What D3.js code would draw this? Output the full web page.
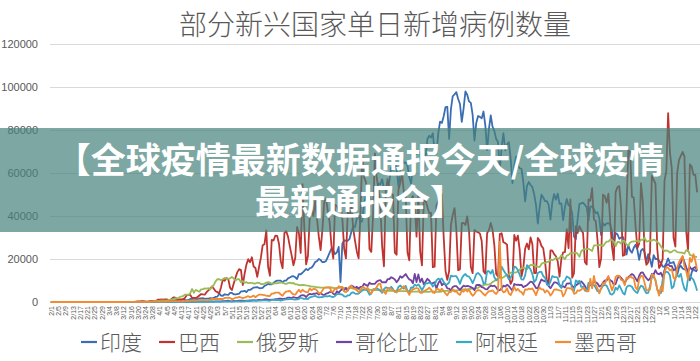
<!DOCTYPE html>
<html>
<head>
<meta charset="utf-8">
<script src="https://cdnjs.cloudflare.com/ajax/libs/d3/7.8.5/d3.min.js"></script>
<style>
html,body{margin:0;padding:0;background:#fff;}
svg{display:block;}
</style>
</head>
<body>
<svg id="chart" width="700" height="361"></svg>
<script>
// ---- Data (values in thousands of daily new cases), daily from 2020-02-01 to 2021-01-23 ----
const title = "部分新兴国家单日新增病例数量";
const bannerLines = ["【全球疫情最新数据通报今天/全球疫情", "最新通报全】"];
const seriesNames = ["印度", "巴西", "俄罗斯", "哥伦比亚", "阿根廷", "墨西哥"];
const yTicks = [0, 20000, 40000, 60000, 80000, 100000, 120000];
const startDate = new Date(2020, 1, 1);
const endDate = new Date(2021, 0, 24);

const india = [
0,0,0,0,0,0,0,0,0,0,0,0,0,0,0,0,0,0,0,0,0,0,0,0,0,0,0,0,0,
0,0,0,0,0,0,0,0,0,0,0.01,0.01,0.02,0.02,0.03,0.03,0.03,0.04,0.05,0.05,0.1,0.1,0.1,0.1,0.1,0.1,0.1,0.2,0.1,0.2,0.3,
0.4,0.5,0.5,0.6,0.5,0.7,0.5,0.6,0.8,0.9,0.9,0.8,0.8,1.2,0.9,0.9,1.0,1.4,1.3,1.6,1.5,1.3,1.7,1.7,1.8,1.5,1.6,1.6,1.8,1.7,
1.9,2.4,2.5,3.9,3.0,2.9,3.6,3.4,3.3,4.2,4.2,3.6,3.5,3.7,3.9,4.9,4.9,5.2,4.6,5.6,5.6,6.1,6.7,6.8,6.9,6.5,6.4,6.6,7.5,7.9,8.4,
8.2,8.2,8.9,9.6,9.9,9.9,9.9,9.0,9.9,10.0,11.0,11.4,11.9,12.0,11.5,10.7,13.0,12.9,13.6,14.5,15.4,14.8,15.7,16.0,17.0,18.6,19.0,20.0,19.5,18.5,
18.6,19.1,21.0,23.0,24.8,24.0,22.3,23.1,25.6,9.3,27.1,28.6,28.5,28.5,29.4,32.7,35.0,34.9,38.9,40.4,37.1,37.7,45.7,49.3,48.9,49.9,46.1,47.7,48.5,52.1,55.1,
54.7,57.1,52.9,52.1,52.5,56.3,62.5,61.5,64.4,62.1,53.6,60.9,66.9,64.6,65.0,63.5,57.9,55.1,64.5,69.7,68.9,70.0,69.2,61.4,60.9,67.2,75.8,77.3,76.5,78.5,69.9,
69.0,78.4,83.9,83.3,86.4,90.6,90.8,75.8,89.7,95.7,96.6,97.6,94.4,92.1,83.8,90.1,97.9,96.4,93.3,92.6,87.0,75.1,83.3,86.5,86.1,85.4,88.6,82.2,70.6,80.5,
86.8,81.5,79.5,75.8,74.4,61.3,72.0,78.5,70.5,73.3,74.3,66.7,55.3,63.5,67.7,63.4,62.2,61.9,55.7,46.8,54.0,55.8,54.4,53.4,50.1,45.1,36.5,43.9,49.9,48.6,46.9,
46.9,45.2,38.3,46.3,50.2,47.6,50.4,45.7,45.9,38.1,44.3,47.9,44.9,44.7,41.1,30.5,29.2,38.6,45.6,45.9,46.2,45.2,44.1,37.9,44.4,44.5,43.1,41.3,41.8,38.8,
31.1,36.6,35.6,36.6,36.7,36.0,32.9,26.6,32.1,31.5,29.4,30.0,30.3,27.1,22.1,26.4,24.0,22.9,25.2,26.6,24.3,19.6,23.9,24.7,23.1,18.7,22.3,20.0,16.4,21.8,20.0,
20.0,19.1,18.2,16.5,16.4,18.1,20.3,18.1,18.2,18.6,16.3,12.6,15.9,16.9,15.6,15.2,15.1,13.8,10.1,13.8,15.2,14.5,14.3
];

const brazil = [
0,0,0,0,0,0,0,0,0,0,0,0,0,0,0,0,0,0,0,0,0,0,0,0,0,0,0,0,0,
0,0,0,0,0,0,0,0,0,0,0.05,0.05,0.05,0.1,0.1,0.1,0.1,0.1,0.2,0.3,0.3,0.4,0.4,0.3,0.2,0.2,0.5,0.5,0.4,0.3,1.1,
1.1,1.2,1.1,1.2,1.2,0.9,0.9,1.7,2.2,1.9,1.1,1.2,1.2,1.3,1.8,3.1,3.3,3.3,1.9,1.9,1.8,2.3,3.0,3.7,3.5,3.4,4.6,5.4,6.3,7.2,
6.2,5.0,4.6,4.1,6.9,10.5,9.9,11.1,10.6,6.6,5.6,8.6,11.4,13.9,15.3,14.9,7.9,13.1,17.4,19.9,18.5,20.8,16.5,15.8,11.7,16.3,20.6,26.4,26.9,33.3,16.4,
12.2,28.9,28.6,30.9,30.8,27.1,18.9,15.7,32.1,32.9,30.4,25.9,21.7,17.1,20.6,34.9,32.2,22.8,54.8,34.7,17.5,21.4,39.4,42.7,40.0,46.9,38.7,30.5,24.1,33.8,
46.7,48.1,42.2,37.0,26.1,20.2,45.3,44.6,42.6,45.0,39.0,24.8,20.3,41.9,39.9,45.4,34.2,28.5,23.5,20.3,41.0,67.9,58.1,55.9,51.1,24.6,23.3,40.8,69.1,57.8,52.4,
45.4,25.8,16.6,51.6,57.2,53.1,50.2,49.9,23.0,22.0,52.2,55.2,60.1,50.6,49.3,23.1,19.4,47.8,49.3,45.3,30.4,50.0,23.4,17.0,47.1,47.2,44.2,41.4,41.4,16.2,16.4,
45.0,46.9,43.8,50.2,30.2,14.5,10.3,14.3,35.8,40.6,43.7,33.5,14.8,15.2,36.7,36.8,35.8,39.8,33.1,16.4,13.4,33.5,32.8,32.4,31.9,28.4,14.3,13.2,32.1,33.4,
36.8,33.5,26.3,13.0,11.9,31.6,32.0,27.8,27.4,26.7,12.3,8.4,10.2,31.2,28.5,30.9,24.1,11.9,15.8,24.8,27.2,24.5,30.0,26.9,13.5,13.5,29.8,28.6,26.1,25.0,18.9,
10.1,8.5,24.0,23.9,22.3,21.3,18.9,11.8,20.0,23.1,23.2,33.9,25.0,47.7,11.3,13.4,35.3,32.1,35.3,33.5,32.1,18.6,17.4,47.7,47.1,53.0,38.4,37.6,28.6,16.2,
20.4,49.9,49.2,46.1,50.4,37.3,25.7,19.5,51.1,53.4,54.0,43.9,21.5,21.9,42.9,70.6,69.8,48.9,48.6,35.3,25.0,27.2,55.3,46.7,22.3,17.3,18.5,23.2,58.7,56.8,55.0,
24.6,15.8,17.3,20.0,56.6,61.0,87.8,69.5,62.3,29.8,25.8,60.0,66.0,68.0,69.8,67.7,33.0,23.7,64.0,63.0,59.1,59.1,51.0
];

const russia = [
0,0,0,0,0,0,0,0,0,0,0,0,0,0,0,0,0,0,0,0,0,0,0,0,0,0,0,0,0,
0,0,0,0,0,0,0,0,0,0,0,0,0,0,0,0.02,0.03,0.03,0.05,0.05,0.06,0.06,0.07,0.07,0.16,0.18,0.2,0.23,0.27,0.3,0.5,
0.4,0.77,0.6,0.6,0.58,0.95,1.15,1.2,1.46,1.79,1.67,2.19,2.56,2.77,3.39,3.45,3.3,4.07,6.06,4.27,5.64,5.24,4.77,5.85,5.97,6.36,6.2,6.41,5.84,7.1,
7.93,9.62,10.63,10.58,10.1,10.56,11.23,10.7,10.82,11.01,11.66,10.9,10.03,10.6,10.6,9.2,9.7,8.9,9.26,8.76,8.85,8.89,8.6,8.6,8.95,8.9,8.34,8.37,8.57,9.0,9.27,
9.04,8.5,8.5,8.8,8.73,8.86,8.99,8.98,8.59,8.4,8.78,8.97,8.71,8.84,8.25,8.24,7.84,7.79,7.97,7.89,7.73,7.6,7.42,7.18,7.11,7.0,6.85,6.8,6.69,6.69,
6.56,6.76,6.76,6.63,6.74,6.61,6.37,6.56,6.63,6.63,6.61,6.6,6.54,6.25,6.42,6.43,6.4,6.2,6.1,6.0,5.84,5.85,5.81,5.81,5.87,5.76,5.64,5.39,5.48,5.51,5.48,
5.46,5.43,5.4,5.16,5.2,5.2,5.24,5.21,5.19,5.11,5.1,5.1,5.1,5.06,5.06,5.0,4.84,4.72,4.83,4.86,4.87,4.92,4.85,4.7,4.7,4.68,4.68,4.72,4.98,4.9,4.73,
4.73,4.73,4.76,4.99,5.2,5.2,5.19,5.1,5.38,5.36,5.4,5.45,5.45,5.53,5.67,5.9,5.9,5.9,6.07,6.15,6.2,6.2,6.43,6.6,7.2,7.5,7.87,8.14,8.13,8.23,
8.48,9.4,9.69,10.5,10.9,11.6,11.1,11.5,12.1,12.6,12.85,13.6,13.87,13.68,13.75,14.2,15.1,15.7,15.98,15.5,15.2,16.5,17.3,17.1,17.3,16.6,16.5,16.2,17.7,18.3,18.1,
18.6,18.7,19.8,19.4,19.8,20.6,20.2,20.4,21.8,20.9,19.9,21.6,21.9,22.7,22.6,22.8,23.0,22.4,21.0,23.6,24.3,24.6,24.6,24.8,24.3,23.7,26.3,26.3,26.3,26.6,
26.4,26.0,27.1,28.1,28.1,29.0,28.8,28.1,26.0,27.9,27.9,27.2,28.6,28.3,26.7,26.3,27.7,28.1,28.2,28.2,28.6,27.9,29.0,28.9,29.9,28.1,28.3,28.6,28.6,29.0,28.7,
27.9,27.2,25.9,24.7,23.7,24.0,23.7,23.0,23.3,24.0,24.0,23.2,23.1,23.0,22.9,22.5,24.1,24.1,21.9,21.6,21.2,21.1,20.9
];

const colombia = [
0,0,0,0,0,0,0,0,0,0,0,0,0,0,0,0,0,0,0,0,0,0,0,0,0,0,0,0,0,
0,0,0,0,0,0,0,0,0,0,0,0,0.01,0.01,0.02,0.01,0.02,0.03,0.03,0.06,0.03,0.04,0.04,0.03,0.05,0.04,0.09,0.07,0.1,0.07,0.1,
0.09,0.12,0.1,0.09,0.1,0.08,0.1,0.07,0.21,0.13,0.07,0.09,0.07,0.1,0.06,0.14,0.09,0.09,0.14,0.1,0.12,0.16,0.17,0.24,0.24,0.21,0.15,0.18,0.27,0.27,
0.22,0.33,0.27,0.28,0.3,0.36,0.39,0.51,0.59,0.38,0.33,0.53,0.4,0.51,0.58,0.6,0.6,0.52,0.58,0.59,0.72,0.79,0.87,0.67,0.82,1.0,0.86,1.0,1.21,1.27,1.14,
1.0,1.09,1.15,1.3,1.36,1.51,1.52,1.39,1.55,1.74,2.04,2.02,1.85,2.28,1.98,1.79,2.2,2.95,3.17,3.1,2.29,3.27,3.8,3.54,3.84,3.84,4.15,3.49,4.2,3.4,
3.27,3.88,4.1,4.61,4.7,3.84,3.37,4.98,4.23,5.34,6.01,5.39,6.54,5.25,6.94,7.65,7.23,6.39,7.07,6.26,7.01,7.02,8.5,7.96,7.46,9.0,8.39,8.42,8.48,9.49,9.96,
10.14,9.14,9.29,9.1,10.6,10.7,11.5,11.1,10.5,9.2,10.3,12.0,11.3,12.1,13.0,11.6,10.5,10.1,8.7,13.1,9.3,12.8,9.3,10.9,8.3,9.4,10.8,10.0,8.6,8.8,9.2,
6.2,8.7,10.1,7.8,8.6,8.0,6.3,6.2,5.4,7.0,7.4,7.4,6.5,5.6,6.7,7.6,7.2,7.5,7.3,6.9,6.5,5.5,7.8,8.0,7.9,6.9,6.7,6.0,5.9,6.9,
7.6,7.4,7.6,6.8,5.4,5.5,6.3,7.6,7.2,8.0,7.4,6.3,5.2,8.4,8.0,8.1,7.9,8.0,6.9,7.4,7.8,8.7,9.5,9.3,7.9,6.5,6.4,8.7,10.5,9.9,9.6,
9.9,7.4,6.4,7.8,9.1,9.1,8.6,7.9,7.1,7.3,6.8,8.5,8.6,8.8,7.5,6.7,7.7,8.4,8.9,9.6,8.7,7.5,5.7,7.0,8.0,8.4,9.5,9.2,8.6,7.2,
7.7,9.0,10.0,10.0,11.2,10.1,9.6,8.0,8.4,10.9,12.1,11.2,10.2,9.0,10.3,11.5,12.3,13.0,12.4,11.0,9.6,12.2,13.7,13.8,12.2,11.1,10.1,10.8,13.0,12.7,14.8,
13.2,12.9,13.6,11.6,14.9,17.0,17.6,16.7,16.8,14.7,15.3,15.7,17.2,18.2,21.0,18.6,16.1,13.9,16.3,15.1,15.8,16.3,14.5
];

const argentina = [
0,0,0,0,0,0,0,0,0,0,0,0,0,0,0,0,0,0,0,0,0,0,0,0,0,0,0,0,0,
0,0,0,0,0,0,0,0,0,0,0,0.01,0,0.01,0.01,0.01,0.02,0.02,0.03,0.12,0.07,0.04,0.04,0.04,0.09,0.12,0.09,0.1,0.06,0.08,0.15,
0.09,0.09,0.13,0.1,0.07,0.08,0.09,0.13,0.1,0.12,0.09,0.1,0.07,0.09,0.14,0.1,0.13,0.08,0.09,0.11,0.12,0.12,0.11,0.17,0.1,0.11,0.13,0.12,0.14,0.12,
0.11,0.13,0.13,0.09,0.17,0.17,0.2,0.24,0.16,0.24,0.16,0.16,0.28,0.32,0.3,0.2,0.3,0.32,0.47,0.47,0.42,0.55,0.73,0.7,0.55,0.62,0.61,0.72,0.8,0.8,0.66,
0.56,0.98,0.95,0.93,0.93,0.84,0.59,0.9,1.14,1.23,1.23,1.39,1.38,1.22,1.1,1.26,1.37,1.99,1.63,1.47,1.57,1.38,2.15,2.33,2.61,2.89,2.4,2.15,2.26,2.26,
2.67,2.74,2.66,2.85,2.44,2.3,2.8,3.64,3.66,3.6,3.45,2.66,2.48,3.1,3.1,4.25,4.52,3.91,3.75,3.94,4.61,5.36,5.78,5.75,5.06,3.4,4.0,5.9,6.13,6.38,5.93,
5.24,4.28,5.93,6.79,6.59,6.05,7.1,5.99,4.69,5.0,7.0,7.67,6.84,6.2,7.5,5.1,4.5,6.8,6.6,8.1,7.5,8.2,7.0,5.5,7.0,8.7,8.7,9.0,8.8,7.2,8.1,
10.1,10.9,10.3,10.9,9.3,8.2,8.2,9.1,12.3,11.9,12.0,12.0,10.5,8.4,11.0,12.3,13.0,12.0,11.8,10.5,8.8,10.7,13.0,13.5,12.7,11.5,8.6,8.8,14.4,14.3,
13.2,14.9,11.5,10.1,10.4,12.9,16.4,14.9,13.5,12.4,10.5,11.4,12.9,16.5,16.1,14.8,12.6,10.5,10.4,12.4,17.1,16.3,15.1,13.0,9.3,10.3,13.5,14.0,14.0,12.0,11.3,
8.1,7.7,9.5,12.1,11.6,11.6,11.3,7.6,6.5,9.5,10.0,11.9,11.4,10.7,5.6,5.1,10.1,9.3,9.9,7.0,7.2,5.3,5.1,8.9,8.3,8.3,7.9,6.6,5.0,5.0,
6.2,7.5,7.9,7.6,5.9,3.8,3.4,4.2,6.7,5.7,7.7,6.1,4.2,3.5,6.8,7.6,7.6,7.1,5.7,4.8,4.2,6.2,7.6,7.2,5.6,4.1,4.3,7.4,11.8,11.6,10.2,
5.8,4.9,4.1,10.4,13.3,14.1,13.8,12.3,6.4,7.2,11.2,12.5,11.7,13.1,9.1,6.2,5.1,11.1,12.0,11.2,10.3,8.1,5.2
];

const mexico = [
0,0,0,0,0,0,0,0,0,0,0,0,0,0,0,0,0,0,0,0,0,0,0,0,0,0,0,0,0,
0,0,0,0,0,0,0,0,0,0,0,0,0.01,0.01,0.02,0.02,0.03,0.02,0.04,0.03,0.05,0.04,0.06,0.09,0.04,0.11,0.12,0.13,0.15,0.15,0.17,
0.16,0.17,0.21,0.16,0.25,0.36,0.29,0.4,0.39,0.38,0.25,0.44,0.3,0.3,0.36,0.5,0.6,0.6,0.76,0.76,0.67,0.73,1.04,0.88,0.97,0.83,0.73,0.85,1.1,1.5,
1.4,1.4,1.5,1.4,1.4,1.4,1.9,1.9,2.0,1.9,1.3,1.6,2.0,2.0,2.4,2.1,1.8,2.0,2.4,2.7,2.2,2.5,3.0,2.2,2.9,3.4,3.4,3.3,3.2,2.9,2.8,
2.8,3.9,3.9,4.4,4.4,4.3,3.5,2.9,4.2,4.9,4.9,5.2,4.2,3.5,3.4,4.6,5.7,4.5,5.7,5.0,4.6,4.6,6.3,5.4,6.1,6.0,5.4,4.1,4.0,5.4,
6.7,6.7,6.7,6.9,4.7,4.9,6.3,6.0,7.3,7.0,7.0,4.9,4.5,5.6,7.1,7.6,6.2,6.2,5.3,4.7,5.3,6.9,6.8,6.0,6.6,4.6,4.0,5.8,5.7,7.0,8.4,
8.5,4.9,4.8,3.8,6.1,6.6,6.1,5.4,5.1,4.4,5.5,5.9,6.5,7.4,6.1,5.0,3.3,5.3,5.8,6.2,6.5,6.2,4.3,4.2,5.1,5.4,5.9,6.7,5.8,4.4,4.2,
6.1,6.0,5.1,6.2,5.0,4.0,3.1,4.6,4.6,5.9,4.8,5.0,3.8,3.3,5.4,4.8,5.9,4.9,5.7,4.0,2.9,3.7,5.1,5.5,5.4,4.6,3.7,3.0,4.2,5.0,
5.1,5.4,4.4,3.7,5.0,28.1,5.8,4.5,4.8,6.4,4.0,3.2,5.1,7.0,5.3,6.1,5.0,4.6,3.4,5.9,5.7,6.2,6.0,6.3,4.9,3.2,5.5,6.7,5.9,5.9,4.4,
5.4,4.6,3.0,4.1,5.8,5.9,5.6,5.4,5.3,2.6,4.0,6.5,6.5,6.2,6.6,3.8,4.1,5.4,5.2,5.8,6.6,6.0,4.9,4.9,10.8,6.3,12.1,7.9,6.3,4.0,
6.4,8.8,8.4,10.5,12.1,8.2,5.4,7.6,11.6,12.3,12.1,10.3,10.1,7.8,11.3,10.9,12.0,11.3,11.0,6.8,5.7,10.6,12.2,12.0,8.9,5.4,5.7,5.8,12.7,12.5,10.0,
5.9,3.0,7.2,5.0,13.9,16.2,15.9,14.6,15.3,11.3,10.3,15.9,18.5,20.0,21.4,16.6,14.2,10.4,20.5,18.7,22.3,19.3,15.0
];

const seriesValues = [india, brazil, russia, colombia, argentina, mexico];
const colors = ["#3b6db3", "#c0332f", "#9bbb59", "#7044a0", "#3aa8c4", "#f28c32"];

// ---- Drawing ----
const svg = d3.select("#chart");
const dates = d3.timeDay.range(startDate, endDate);
const n = dates.length;
const fmt = d => (d.getMonth() + 1) + "/" + d.getDate();

const x = d3.scalePoint().domain(d3.range(n)).range([50, 698]).padding(0.5);
const y = d3.scaleLinear().domain([0, 120000]).range([302, 44]);

// y axis with gridlines
const yAxis = svg.append("g").attr("transform", "translate(50,0)")
  .call(d3.axisLeft(y).tickValues(yTicks).tickSize(-650).tickPadding(12).tickFormat(d3.format("d")));
yAxis.select(".domain").remove();
yAxis.selectAll(".tick line").attr("stroke", "#d9d9d9").attr("stroke-width", 1);
yAxis.selectAll(".tick text").attr("fill", "#595959")
  .style("font-family", "Liberation Sans, Arial, sans-serif").style("font-size", "11px");

// x axis
const xTickIdx = d3.range(0, n, 4);
const xAxis = svg.append("g").attr("transform", "translate(0,302)")
  .call(d3.axisBottom(x).tickValues(xTickIdx).tickSize(0).tickFormat(i => fmt(dates[i])));
xAxis.select(".domain").attr("stroke", "#d9d9d9");
xAxis.selectAll(".tick text")
  .attr("transform", "rotate(-90)")
  .attr("x", -4).attr("y", 0).attr("dy", "0.35em")
  .attr("text-anchor", "end")
  .attr("fill", "#595959")
  .style("font-family", "Liberation Sans, Arial, sans-serif").style("font-size", "7px");

// lines
const line = d3.line().x((d, i) => x(i)).y(d => y(d * 1000));
seriesValues.forEach((vals, k) => {
  svg.append("path").datum(vals)
    .attr("fill", "none")
    .attr("stroke", colors[k])
    .attr("stroke-width", 1.8)
    .attr("stroke-linejoin", "round")
    .attr("d", line);
});

// title
svg.append("text").attr("x", 375).attr("y", 35).attr("text-anchor", "middle")
  .attr("fill", "#595959")
  .style("font-family", "'Noto Sans CJK SC', sans-serif").style("font-weight", "300").style("font-size", "28px")
  .text(title);

// legend
const legend = svg.append("g");
let lx = 81;
seriesNames.forEach((name, k) => {
  legend.append("line").attr("x1", lx).attr("x2", lx + 16).attr("y1", 342).attr("y2", 342)
    .attr("stroke", colors[k]).attr("stroke-width", 2.2);
  const t = legend.append("text").attr("x", lx + 19).attr("y", 342).attr("dy", "0.36em")
    .attr("fill", "#595959")
    .style("font-family", "'Noto Sans CJK SC', sans-serif").style("font-weight", "300").style("font-size", "21px")
    .text(name);
  lx += 19 + t.node().getComputedTextLength() + 17;
});

// overlay banner
svg.append("rect").attr("x", 0).attr("y", 128).attr("width", 700).attr("height", 104)
  .attr("fill", "rgb(70,130,124)").attr("fill-opacity", 0.7);
bannerLines.forEach((s, i) => {
  svg.append("text").attr("x", 360).attr("y", 160 + i * 42).attr("dy", "0.36em")
    .attr("text-anchor", "middle").attr("fill", "#ffffff")
    .style("font-family", "'Noto Sans CJK SC', sans-serif").style("font-weight", "700").style("font-size", "35px")
    .text(s);
});
</script>
</body>
</html>
